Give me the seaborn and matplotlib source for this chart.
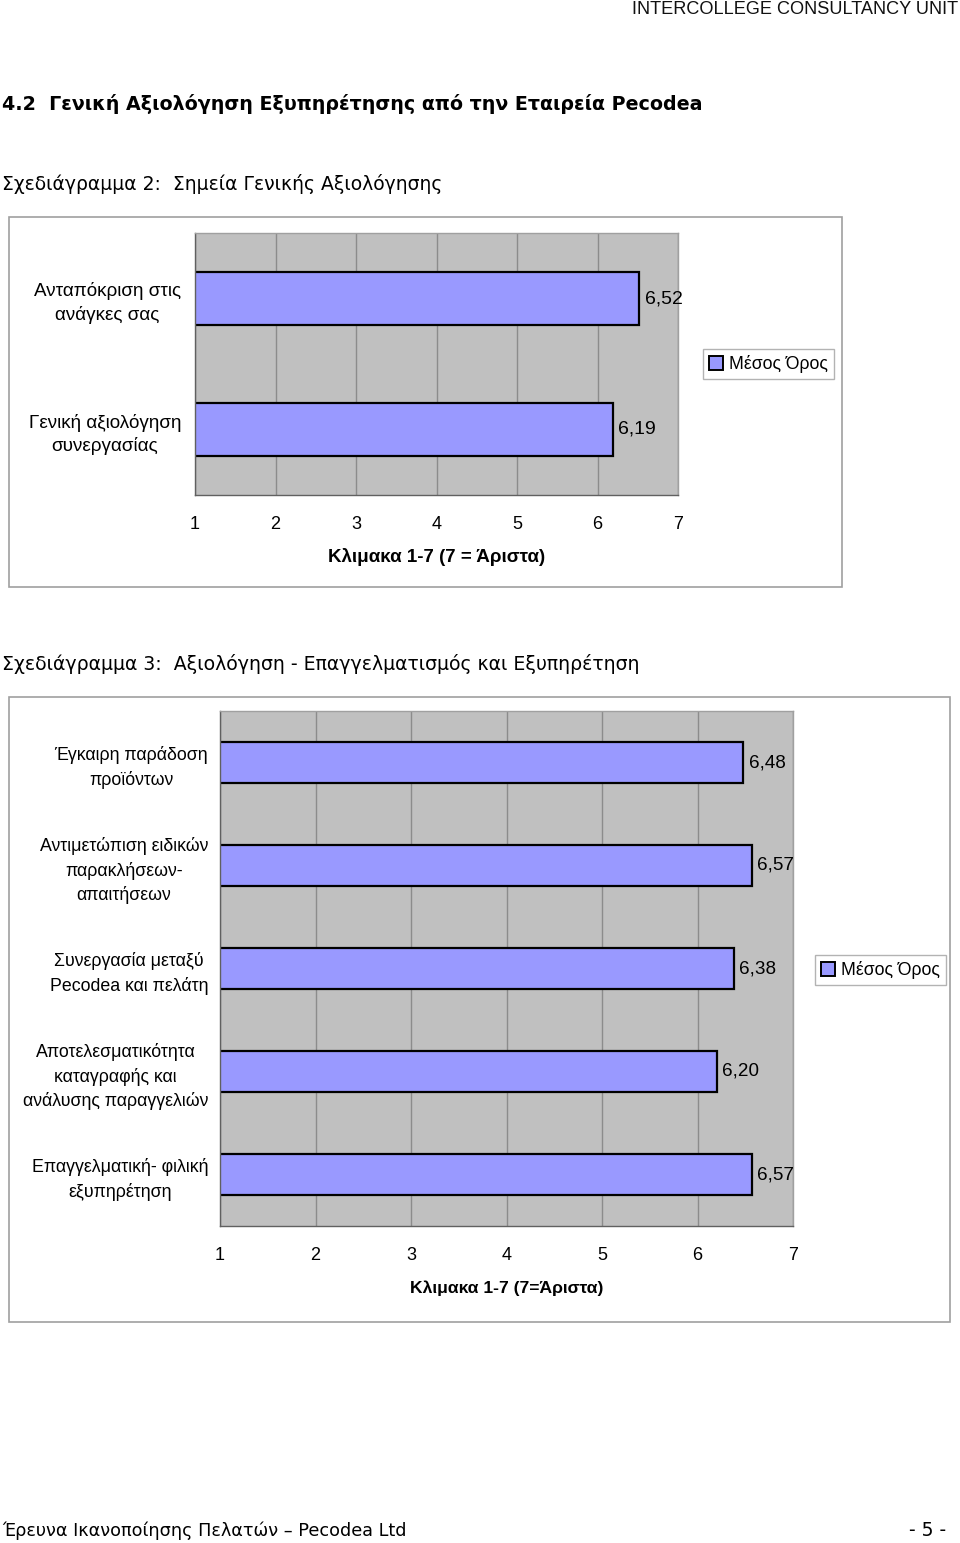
import numpy as np
import pandas as pd
import matplotlib
matplotlib.use("Agg")
import matplotlib.pyplot as plt
from matplotlib.patches import Rectangle, Patch
import seaborn as sns

# ---------------- data ----------------
cats1 = ["Ανταπόκριση στις\nανάγκες σας", "Γενική αξιολόγηση\nσυνεργασίας"]
vals1 = [6.52, 6.19]

cats2 = ["Έγκαιρη παράδοση\nπροϊόντων",
         "Αντιμετώπιση ειδικών\nπαρακλήσεων-\nαπαιτήσεων",
         "Συνεργασία μεταξύ\nPecodea και πελάτη",
         "Αποτελεσματικότητα\nκαταγραφής και\nανάλυσης παραγγελιών",
         "Επαγγελματική- φιλική\nεξυπηρέτηση"]
vals2 = [6.48, 6.57, 6.38, 6.20, 6.57]

xticks = [1, 2, 3, 4, 5, 6, 7]
series_name = "Μέσος Όρος"
xlabel1 = "Κλιμακα 1-7 (7 = Άριστα)"
xlabel2 = "Κλιμακα 1-7 (7=Άριστα)"

header = "INTERCOLLEGE CONSULTANCY UNIT"
title = "4.2  Γενική Αξιολόγηση Εξυπηρέτησης από την Εταιρεία Pecodea"
sub1 = "Σχεδιάγραμμα 2:  Σημεία Γενικής Αξιολόγησης"
sub2 = "Σχεδιάγραμμα 3:  Αξιολόγηση - Επαγγελματισμός και Εξυπηρέτηση"
footer_l = "Έρευνα Ικανοποίησης Πελατών – Pecodea Ltd"
footer_r = "- 5 -"

# ---------------- style ----------------
sns.set_style("white")
plt.rcParams["font.family"] = ["Liberation Sans", "DejaVu Sans"]
plt.rcParams["text.color"] = "black"
plt.rcParams["xtick.color"] = "black"
plt.rcParams["ytick.color"] = "black"
plt.rcParams["axes.labelcolor"] = "black"

W, H = 960, 1543
fig = plt.figure(figsize=(W / 100, H / 100), dpi=100)
fig.patch.set_facecolor("white")

BAR = "#9999FF"
PLOT_BG = "#C0C0C0"
GRID = "#8C8C8C"


def fx(px):
    return px / W


def fy(py):
    return 1 - py / H


def draw_chart(cats, vals, ax_rect, box_rect, legend_xy, xlabel, label_pad,
               fs_cat, fs_val, fs_tick, fs_xlab, linesp, ypad):
    # outer chart frame
    x0, y0, x1, y1 = box_rect
    fig.patches.append(Rectangle((fx(x0), fy(y1)), fx(x1 - x0), (y1 - y0) / H,
                                 transform=fig.transFigure, fill=False,
                                 edgecolor="#A0A0A0", linewidth=1.2, zorder=0))
    l, t, r, b = ax_rect
    ax = fig.add_axes([fx(l), fy(b), fx(r - l), (b - t) / H])
    df = pd.DataFrame({"cat": cats, "val": vals})
    sns.barplot(data=df, x="val", y="cat", orient="h", color=BAR,
                saturation=1, width=0.4, edgecolor="black", linewidth=1.6,
                ax=ax)
    n = len(cats)
    ax.set_facecolor(PLOT_BG)
    ax.set_xlim(1, 7)
    ax.set_ylim(n - 0.5, -0.5)
    ax.set_xticks(xticks)
    ax.set_xticklabels([str(v) for v in xticks], fontsize=fs_tick)
    ax.xaxis.grid(True, color=GRID, linewidth=1)
    ax.yaxis.grid(False)
    ax.set_axisbelow(True)
    ax.set_yticks(np.arange(-0.5, n, 1.0), minor=True)
    ax.tick_params(axis="y", which="major", length=0, pad=ypad,
                   labelsize=fs_cat)
    ax.tick_params(axis="y", which="minor", length=5, color="#808080", width=1)
    ax.tick_params(axis="x", which="major", length=5, color="#808080", width=1,
                   pad=10)
    for lab in ax.get_yticklabels():
        lab.set_multialignment("center")
        lab.set_linespacing(linesp)
    ax.set_ylabel("")
    ax.set_xlabel(xlabel, fontsize=fs_xlab, fontweight="bold",
                  labelpad=label_pad)
    for s in ["top", "right"]:
        ax.spines[s].set_color("#A0A0A0")
        ax.spines[s].set_linewidth(1)
    for s in ["left", "bottom"]:
        ax.spines[s].set_color("#606060")
        ax.spines[s].set_linewidth(1)
    labels = [f"{v:.2f}".replace(".", ",") for v in vals]
    ax.bar_label(ax.containers[0], labels=labels, padding=4, fontsize=fs_val)
    handle = Patch(facecolor=BAR, edgecolor="black", linewidth=1.4)
    leg = ax.legend([handle], [series_name], loc="center left",
                    bbox_to_anchor=(fx(legend_xy[0]), fy(legend_xy[1])),
                    bbox_transform=fig.transFigure, fontsize=12.7,
                    frameon=True, fancybox=False, handlelength=0.8,
                    handleheight=0.8, handletextpad=0.3, borderpad=0.35,
                    borderaxespad=0)
    leg.get_frame().set_edgecolor("#A0A0A0")
    leg.get_frame().set_linewidth(1)
    return ax


draw_chart(cats1, vals1, (195, 233, 678, 495), (9, 217, 842, 587),
           (703, 364), xlabel1, 11,
           fs_cat=13.6, fs_val=14, fs_tick=13, fs_xlab=13.5, linesp=1.38,
           ypad=10)
draw_chart(cats2, vals2, (220, 711, 793, 1226), (9, 697, 950, 1322),
           (815, 970), xlabel2, 12,
           fs_cat=12.8, fs_val=13.6, fs_tick=13, fs_xlab=12.6, linesp=1.44,
           ypad=8.5)

# ---------------- document texts ----------------
fig.text(fx(958), fy(10), header, ha="right", va="center", fontsize=13.1,
         family=["Liberation Sans", "DejaVu Sans"], color="#111111")
fig.text(fx(2), fy(104), title, ha="left", va="center", fontsize=13.7,
         fontweight="bold", family=["DejaVu Sans"])
fig.text(fx(2), fy(184), sub1, ha="left", va="center", fontsize=13.5,
         family=["DejaVu Sans"])
fig.text(fx(2), fy(664), sub2, ha="left", va="center", fontsize=13.6,
         family=["DejaVu Sans"])
fig.text(fx(2), fy(1531), footer_l, ha="left", va="center", fontsize=12.7,
         family=["DejaVu Sans"])
fig.text(fx(946), fy(1531), footer_r, ha="right", va="center", fontsize=13.5,
         family=["DejaVu Sans"])

fig.savefig("out.png", dpi=100, facecolor="white")
